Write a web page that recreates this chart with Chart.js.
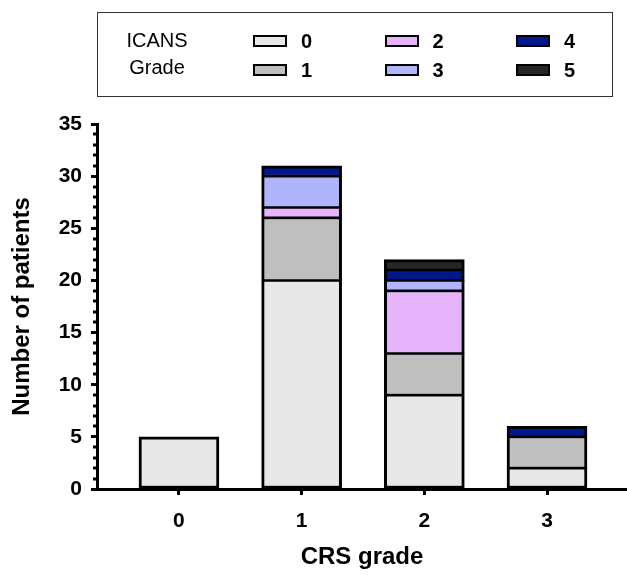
<!DOCTYPE html>
<html>
<head>
<meta charset="utf-8">
<script src="https://cdn.jsdelivr.net/npm/chart.js@4.4.1/dist/chart.umd.min.js"></script>
<style>
  html, body { margin: 0; padding: 0; background: #fff; }
  #wrap { position: relative; width: 627px; height: 575px; font-family: "Liberation Sans", Arial, sans-serif; }
  #chart { position: absolute; left: 0; top: 0; }
  #legend { position: absolute; left: 97px; top: 12px; width: 514px; height: 83px; border: 1.5px solid #333; box-sizing: content-box; }
  #legend .ttl { position: absolute; left: 0; width: 118px; top: 14px; text-align: center; font-size: 20px; line-height: 27px; color: #000; }
  #legend .sw { position: absolute; width: 30px; height: 8px; border: 2.5px solid #000; }
  #legend .lb { position: absolute; font-size: 20px; font-weight: bold; color: #000; line-height: 20px; }
</style>
</head>
<body>
<div id="wrap">
  <canvas id="chart" width="627" height="575"></canvas>
  <div id="legend"></div>
</div>
<script>
// CRS grade categories (x axis)
const crsGrades = [0, 1, 2, 3];
// ICANS grade series names
const icansGrades = ['0', '1', '2', '3', '4', '5'];
// Number of patients per CRS grade, one array per ICANS grade
const icans0 = [5, 20, 9, 2];
const icans1 = [0, 6, 4, 3];
const icans2 = [0, 1, 6, 0];
const icans3 = [0, 3, 1, 0];
const icans4 = [0, 1, 1, 1];
const icans5 = [0, 0, 1, 0];
const yTickLabels = [0, 5, 10, 15, 20, 25, 30, 35];

const series = [icans0, icans1, icans2, icans3, icans4, icans5];
const fills = ['#e8e8e8', '#bfbfbf', '#e6b4fb', '#b0b4fc', '#00188c', '#262626'];

// index of the highest non-empty segment in each stack
const topSeries = crsGrades.map((_, i) => {
  let t = 0;
  series.forEach((s, k) => { if (s[i] > 0) t = k; });
  return t;
});

const datasets = series.map((vals, k) => ({
  label: icansGrades[k],
  data: crsGrades.map((c, i) => ({ x: c, y: vals[i] })),
  backgroundColor: fills[k],
  borderColor: '#000',
  borderSkipped: false,
  borderWidth: (ctx) => ({
    left: 3, right: 3,
    top: ctx.datasetIndex === topSeries[ctx.dataIndex] ? 3 : 1.6,
    bottom: ctx.datasetIndex === 0 ? 3 : 1.6
  }),
  barThickness: 80
}));

// short minor ticks between the labelled y values
const minorTicks = {
  id: 'minorTicks',
  afterDraw(chart) {
    const y = chart.scales.y;
    const c = chart.ctx;
    c.save();
    c.fillStyle = '#000';
    for (let v = y.min; v <= y.max; v++) {
      if (yTickLabels.includes(v)) continue;
      const py = y.getPixelForValue(v);
      c.fillRect(y.right - 4, Math.round(py) - 1.5, 4, 3);
    }
    c.restore();
  }
};

const chart = new Chart(document.getElementById('chart'), {
  type: 'bar',
  data: { datasets },
  plugins: [minorTicks],
  options: {
    responsive: false,
    animation: false,
    layout: { padding: { top: 124, left: 0, right: 0, bottom: 0 } },
    plugins: { legend: { display: false }, tooltip: { enabled: false } },
    scales: {
      x: {
        type: 'linear',
        stacked: true,
        offset: false,
        min: -0.668,
        max: 3.652,
        afterBuildTicks: (s) => { s.ticks = crsGrades.map(v => ({ value: v })); },
        afterFit: (s) => { s.height = 86; },
        border: { display: true, color: '#000', width: 3 },
        grid: { offset: false, drawOnChartArea: false, drawTicks: true, tickLength: 6, tickWidth: 3, tickColor: '#000' },
        ticks: {
          color: '#000',
          padding: 14,
          font: { family: 'Liberation Sans', size: 21, weight: 'bold' },
          callback: (v) => String(v)
        },
        title: {
          display: true,
          text: 'CRS grade',
          color: '#000',
          font: { family: 'Liberation Sans', size: 24, weight: 'bold' },
          padding: { top: 0, bottom: 3 }
        }
      },
      y: {
        stacked: true,
        min: 0,
        max: 35,
        afterBuildTicks: (s) => { s.ticks = yTickLabels.map(v => ({ value: v })); },
        afterFit: (s) => { s.width = 97; },
        border: { display: true, color: '#000', width: 3 },
        grid: { drawOnChartArea: false, drawTicks: true, tickLength: 6, tickWidth: 3, tickColor: '#000' },
        ticks: {
          color: '#000',
          padding: 9,
          font: { family: 'Liberation Sans', size: 21, weight: 'bold' }
        },
        title: {
          display: true,
          text: 'Number of patients',
          color: '#000',
          font: { family: 'Liberation Sans', size: 24, weight: 'bold' },
          padding: { top: 8, bottom: 0 }
        }
      }
    }
  }
});

// legend box built from the chart's datasets, filled column by column
const legend = document.getElementById('legend');
const ttl = document.createElement('div');
ttl.className = 'ttl';
ttl.innerHTML = 'ICANS<br>Grade';
legend.appendChild(ttl);
chart.data.datasets.forEach((ds, i) => {
  const col = Math.floor(i / 2), row = i % 2;
  const sw = document.createElement('div');
  sw.className = 'sw';
  sw.style.left = (155 + col * 131.5) + 'px';
  sw.style.top = (22 + row * 29) + 'px';
  sw.style.background = ds.backgroundColor;
  legend.appendChild(sw);
  const lb = document.createElement('div');
  lb.className = 'lb';
  lb.textContent = ds.label;
  lb.style.left = (203 + col * 131.5) + 'px';
  lb.style.top = (18 + row * 29) + 'px';
  legend.appendChild(lb);
});
</script>
</body>
</html>
